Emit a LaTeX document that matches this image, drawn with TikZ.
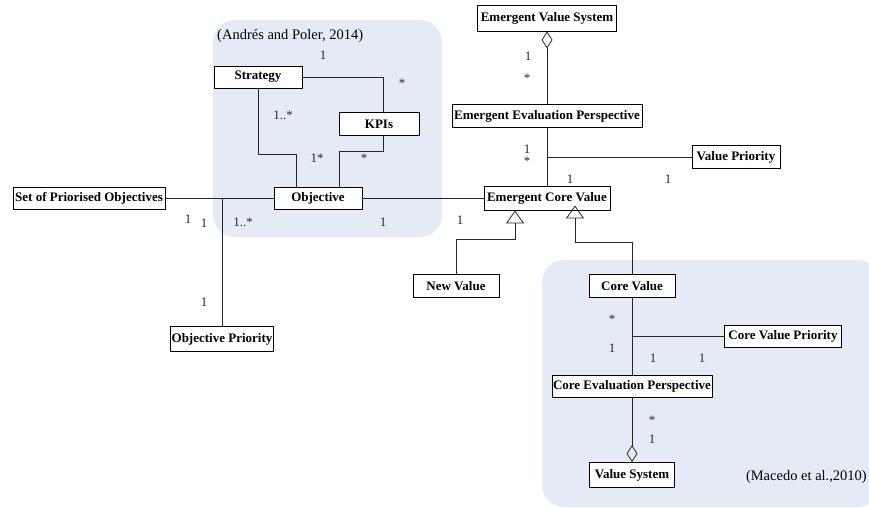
\documentclass[tikz,border=0pt]{standalone}
\usepackage{fontspec}
\setmainfont{Liberation Serif}
\usetikzlibrary{arrows.meta}
\definecolor{regionblue}{RGB}{229,235,246}
\definecolor{labgray}{RGB}{40,40,40}
\begin{document}
\begin{tikzpicture}[x=1pt,y=-1pt,
  cls/.style={draw=black,line width=0.9pt,fill=white,inner sep=0pt,font=\fontsize{13}{15}\selectfont\bfseries},
  lab/.style={inner sep=0pt,text=labgray,font=\fontsize{13}{15}\selectfont},
  conn/.style={draw=black!85,line width=0.8pt},
  agg/.style={conn,-{Diamond[open,length=17pt,width=11pt,line width=0.8pt]}},
  gen/.style={conn,-{Triangle[open,length=13pt,width=18pt,line width=0.8pt]}}]
\useasboundingbox (0,0) rectangle (869,507);
% regions
\fill[regionblue,rounded corners=22pt] (213,20) rectangle (442,237);
\fill[regionblue,rounded corners=22pt] (542,260) rectangle (880,507);
\node[lab,text=black,anchor=west,font=\fontsize{14.5}{16}\selectfont] (refA) at (217,36) {(Andrés and Poler, 2014)};
\node[lab,text=black,anchor=east,font=\fontsize{14.5}{16}\selectfont] (refB) at (867,477) {(Macedo et al.,2010)};
% classes
\node[cls,minimum width=139pt,minimum height=26pt] (evs) at (547,18) {Emergent Value System};
\node[cls,minimum width=190pt,minimum height=23pt] (eep) at (547,116) {Emergent Evaluation Perspective};
\node[cls,minimum width=88pt,minimum height=23pt] (vp) at (736,157) {Value Priority};
\node[cls,minimum width=126pt,minimum height=24pt] (ecv) at (547,198) {Emergent Core Value};
\node[cls,minimum width=86pt,minimum height=23pt] (nv) at (456,286) {New Value};
\node[cls,minimum width=86pt,minimum height=23pt] (cv) at (632,286) {Core Value};
\node[cls,minimum width=117pt,minimum height=22pt] (cvp) at (783,336) {Core Value Priority};
\node[cls,minimum width=160pt,minimum height=22pt] (cep) at (632,386) {Core Evaluation Perspective};
\node[cls,minimum width=85pt,minimum height=25pt] (vs) at (632,475) {Value System};
\node[cls,minimum width=88pt,minimum height=22pt] (strat) at (258,77) {Strategy};
\node[cls,minimum width=80pt,minimum height=23pt] (kpi) at (379,124) {KPIs};
\node[cls,minimum width=88pt,minimum height=22pt] (obj) at (318,198) {Objective};
\node[cls,minimum width=152pt,minimum height=22pt] (sop) at (89,198) {Set of Priorised Objectives};
\node[cls,minimum width=103pt,minimum height=25pt] (op) at (222,339) {Objective Priority};
% junction / bend coordinates
\coordinate (jA) at (383,77);
\coordinate (jB) at (258,154);
\coordinate (jC) at (383,151);
\coordinate (jD) at (222,198);
\coordinate (jE) at (547,157);
\coordinate (jF) at (515,239);
\coordinate (jG) at (575,242);
\coordinate (jH) at (632,336);
% connectors
\draw[conn] (strat.east) -- (jA) -- ([xshift=4pt]kpi.north);
\draw[conn] (strat.south) -- (jB) -| ([xshift=-22pt]obj.north);
\draw[conn] ([xshift=4pt]kpi.south) -- (jC) -| ([xshift=21pt]obj.north);
\draw[conn] (sop.east) -- (obj.west);
\draw[conn] (jD) -- (op.north);
\draw[conn] (obj.east) -- (ecv.west);
\draw[agg] (eep.north) -- (evs.south);
\draw[conn] (eep.south) -- (ecv.north);
\draw[conn] (jE) -- (vp.west);
\draw[gen] (nv.north) |- (jF) -- ([xshift=-32pt]ecv.south);
\draw[gen] (cv.north) |- (jG) -- ([xshift=28pt,yshift=5pt]ecv.south);
\draw[conn] (cv.south) -- (cep.north);
\draw[conn] (jH) -- (cvp.west);
\draw[agg] (cep.south) -- (vs.north);
% multiplicities
\node[lab] (m1) at (323,55) {1};
\node[lab] (m2) at (402,83) {*};
\node[lab] (m3) at (283,115) {1..*};
\node[lab] (m4) at (317,158) {1*};
\node[lab] (m5) at (364,158) {*};
\node[lab] (m6) at (383,222) {1};
\node[lab] (m7) at (188,219) {1};
\node[lab] (m8) at (204,223) {1};
\node[lab] (m9) at (243,222) {1..*};
\node[lab] (m10) at (204,302) {1};
\node[lab] (m11) at (460,220) {1};
\node[lab] (m12) at (528,56) {1};
\node[lab] (m13) at (527,78) {*};
\node[lab] (m14) at (527,149) {1};
\node[lab] (m15) at (527,161) {*};
\node[lab] (m16) at (570,179) {1};
\node[lab] (m17) at (668,179) {1};
\node[lab] (m18) at (612,319) {*};
\node[lab] (m19) at (612,348) {1};
\node[lab] (m20) at (653,358) {1};
\node[lab] (m21) at (702,358) {1};
\node[lab] (m22) at (652,420) {*};
\node[lab] (m23) at (652,439) {1};
\end{tikzpicture}
\end{document}
